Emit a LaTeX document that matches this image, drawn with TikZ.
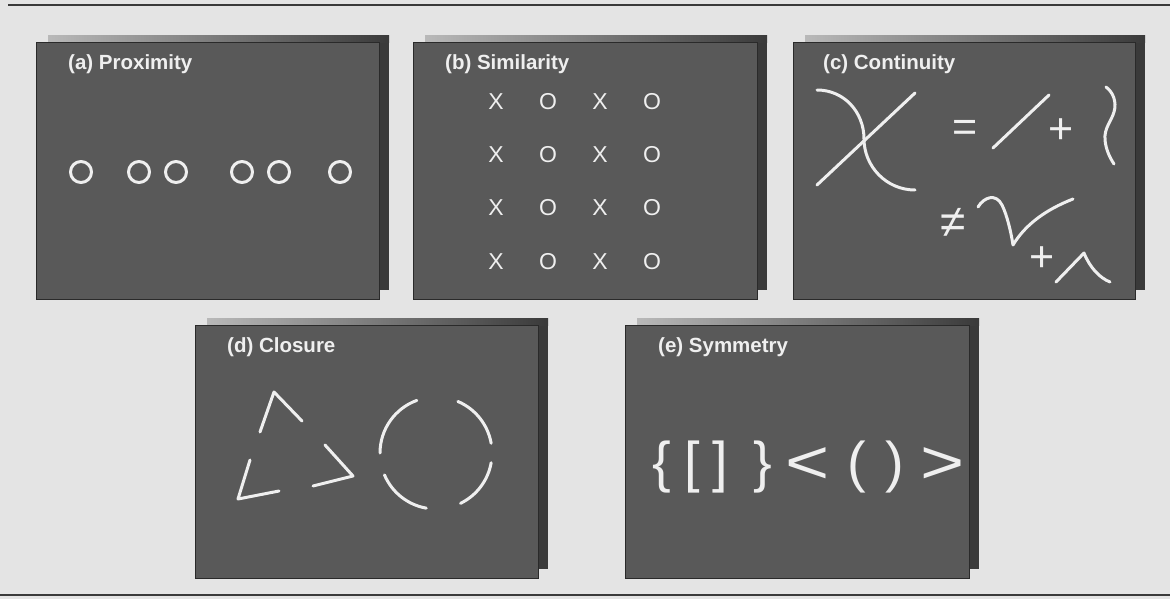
\documentclass[tikz,border=0pt]{standalone}
\usepackage{fontspec}
\setmainfont{Liberation Sans}
\definecolor{bgc}{HTML}{E4E4E4}
\definecolor{panelc}{HTML}{595959}
\definecolor{shadc}{HTML}{3A3A3A}
\definecolor{edgec}{HTML}{2A2A2A}
\definecolor{inkc}{HTML}{EFEFEF}
\definecolor{rulec}{HTML}{3A3A3A}
\newcommand\mypanel[4]{%
  \fill[shadc] (#1+12,#2-7) rectangle (#3+10,#4-9);
  \shade[left color=gray!55, middle color=shadc, right color=shadc] (#1+12,#2-7) rectangle (#3+10,#2);
  \filldraw[fill=panelc, draw=edgec, line width=1pt] (#1,#2) rectangle (#3,#4);
}
\begin{document}
\begin{tikzpicture}[x=1pt,y=-1pt,
  title/.style={anchor=base west, inner sep=0pt, text=inkc, font=\fontsize{20.5}{24}\selectfont\bfseries},
  grid/.style={inner sep=0pt, text=inkc, font=\fontsize{23}{27}\selectfont},
  op/.style={inner sep=0pt, text=inkc, font=\fontsize{43}{47}\selectfont},
  sym/.style={anchor=base, inner sep=0pt, text=inkc, font=\fontsize{56}{60}\selectfont},
  fig/.style={draw=inkc, line width=3pt, line cap=round, line join=round}]
\useasboundingbox (0,0) rectangle (1170,599);
\fill[bgc] (0,0) rectangle (1170,599);
% rules
\draw[rulec, line width=2.5pt] (8,5) -- (1170,5);
\draw[rulec, line width=2.5pt] (0,595) -- (1170,595);
% panels
\mypanel{36}{43}{379}{299}
\mypanel{413}{43}{757}{299}
\mypanel{793}{43}{1135}{299}
\mypanel{195}{325}{538}{578}
\mypanel{625}{325}{969}{578}
% (a) Proximity
\node[title] (ta) at (68,70) {(a) Proximity};
\foreach \cx in {81,139,176,242,279,340}
  \draw[fig] (\cx,172) circle[radius=10.5pt];
% (b) Similarity
\node[title] (tb) at (445,70) {(b) Similarity};
\foreach \ry [count=\r] in {102,155,208,262} {
  \node[grid] (x1\r) at (496,\ry) {X};
  \node[grid] (o1\r) at (548,\ry) {O};
  \node[grid] (x2\r) at (600,\ry) {X};
  \node[grid] (o2\r) at (652,\ry) {O};
}
% (c) Continuity
\node[title] (tc) at (823,70) {(c) Continuity};
\draw[fig] (817,185) -- (915,93);
\draw[fig] (817,90) .. controls (844,90) and (864,112) .. (864,139) .. controls (864,166) and (886,190) .. (915,190);
\node[op] (eq) at (965,131) {=};
\draw[fig] (993,148) -- (1049,95);
\node[op] (pl1) at (1061,131) {+};
\draw[fig] (1106,87) .. controls (1113,92) and (1117,102) .. (1114,112) .. controls (1111,122) and (1104,128) .. (1105,140) .. controls (1106,150) and (1110,158) .. (1114,164);
\node[op, font=\fontsize{46}{50}\selectfont] (neq) at (953,223) {≠};
\draw[fig] (978,207) .. controls (984,197) and (996,193) .. (1002,205) .. controls (1007,215) and (1011,232) .. (1013,245) .. controls (1025,225) and (1045,210) .. (1073,199);
\node[op] (pl2) at (1042,259) {+};
\draw[fig] (1056,282) -- (1084,253) .. controls (1090,268) and (1100,278) .. (1110,282);
% (d) Closure
\node[title] (td) at (227,352) {(d) Closure};
\draw[fig] (260,432) -- (274,392) -- (302,421);
\draw[fig] (325,445) -- (353,476) -- (313,486);
\draw[fig] (250,460) -- (238,499) -- (279,491);
\coordinate (cc) at (436,453);
\draw[fig] ([shift={(110:56pt)}]cc) arc[start angle=110, end angle=180, radius=56pt];
\draw[fig] ([shift={(10:56pt)}]cc) arc[start angle=10, end angle=67, radius=56pt];
\draw[fig] ([shift={(-64:56pt)}]cc) arc[start angle=-64, end angle=-10, radius=56pt];
\draw[fig] ([shift={(203:56pt)}]cc) arc[start angle=203, end angle=260, radius=56pt];
% (e) Symmetry
\node[title] (te) at (658,352) {(e) Symmetry};
\node[sym] (s1) at (662,481) {\{};
\node[sym] (s2) at (692,481) {[};
\node[sym] (s3) at (720,481) {]};
\node[sym] (s4) at (763,481) {\}};
\node[sym, xscale=1.35, yscale=1.1] (s5) at (808,483) {<};
\node[sym] (s6) at (857,481) {(};
\node[sym] (s7) at (895,481) {)};
\node[sym, xscale=1.35, yscale=1.1] (s8) at (943,483) {>};
\end{tikzpicture}
\end{document}
